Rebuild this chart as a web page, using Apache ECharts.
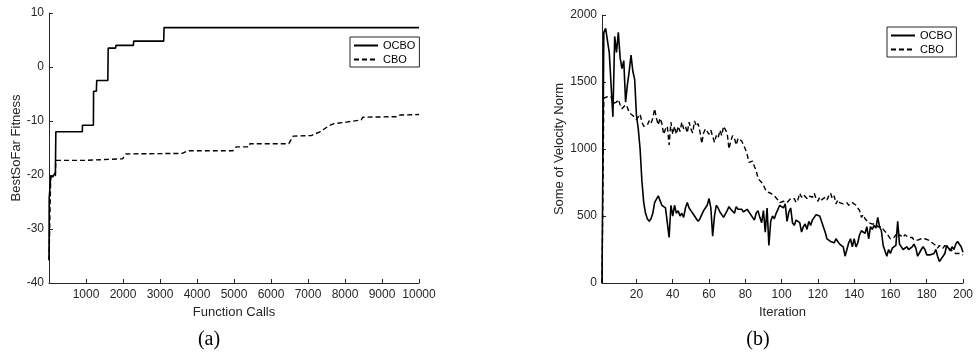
<!DOCTYPE html>
<html lang="en">
<head>
<meta charset="UTF-8">
<title>OCBO vs CBO</title>
<script src="https://cdn.jsdelivr.net/npm/echarts/dist/echarts.min.js"></script>
<style>
  html, body { margin: 0; padding: 0; background: #fff; }
  #chart { width: 976px; height: 352px; }
</style>
</head>
<body>
<div id="chart"></div>
<script>
// (a) best-so-far fitness vs function calls
var fcOcboCalls = [1, 5, 46, 108, 173, 181, 185, 900, 905, 1200, 1205, 1280, 1290, 1590, 1600, 1800, 1810, 2280, 2290, 3100, 3110, 10000];
var fcOcboFit   = [-35.8, -24.3, -20.3, -20.3, -19.5, -19.4, -12.0, -12.0, -10.8, -10.8, -4.5, -4.5, -2.5, -2.5, 3.5, 3.5, 4.0, 4.0, 4.8, 4.8, 7.3, 7.3];
var fcCboCalls  = [1, 46, 175, 181, 920, 930, 1990, 2080, 3600, 3760, 4970, 5060, 5400, 5430, 6480, 6600, 7090, 7320, 7590, 7700, 8040, 8440, 8480, 9390, 9480, 10000];
var fcCboFit    = [-35.8, -20.3, -20.1, -17.3, -17.3, -17.1, -17.0, -16.1, -16.0, -15.5, -15.5, -14.8, -14.8, -14.2, -14.2, -12.8, -12.7, -12.0, -10.8, -10.5, -10.2, -9.8, -9.3, -9.2, -8.9, -8.8];
var callTicks   = [1000, 2000, 3000, 4000, 5000, 6000, 7000, 8000, 9000, 10000];

// (b) sum of velocity norm per iteration (iterations 1..200)
var velOcbo = [
  0, 1870, 1900, 1905, 1720, 1710, 1240, 1840, 1720, 1870,
  1680, 1600, 1660, 1350, 1480, 1580, 1700, 1580, 1520, 1250,
  1150, 1000, 760, 600, 520, 480, 460, 480, 520, 600,
  590, 650, 640, 580, 590, 560, 570, 340, 580, 500,
  580, 520, 540, 500, 520, 490, 560, 600, 560, 540,
  520, 500, 480, 460, 480, 470, 540, 560, 580, 630,
  560, 350, 500, 580, 560, 530, 510, 490, 500, 540,
  570, 550, 560, 520, 570, 550, 540, 550, 530, 520,
  550, 530, 510, 490, 470, 520, 540, 490, 450, 540,
  380, 560, 280, 460, 500, 480, 520, 510, 580, 590,
  560, 590, 460, 530, 560, 450, 430, 470, 480, 450,
  380, 420, 440, 400, 460, 430, 470, 490, 510, 520,
  500, 460, 420, 380, 330, 320, 310, 310, 300, 330,
  310, 290, 300, 270, 200, 250, 300, 330, 270, 330,
  270, 300, 360, 390, 390, 370, 420, 330, 420, 400,
  430, 410, 490, 420, 390, 280, 270, 200, 250, 220,
  260, 250, 280, 460, 290, 300, 250, 240, 270, 250,
  250, 270, 290, 260, 200, 210, 250, 270, 250, 210,
  220, 210, 220, 220, 250, 200, 160, 180, 200, 220,
  280, 270, 240, 270, 250, 290, 310, 310, 270, 230
];
var velCbo = [
  0, 1380, 1380, 1390, 1380, 1390, 1340, 1340, 1350, 1370,
  1330, 1300, 1290, 1330, 1310, 1270, 1260, 1250, 1250, 1220,
  1220, 1260, 1200, 1170, 1170, 1180, 1210, 1190, 1230, 1300,
  1230, 1180, 1230, 1190, 1110, 1150, 1170, 1030, 1200, 1110,
  1170, 1110, 1170, 1130, 1200, 1150, 1170, 1120, 1200, 1150,
  1120, 1210, 1170, 1190, 1130, 1040, 1120, 1150, 1130, 1110,
  1140, 1130, 1050, 1100, 1080, 1140, 1100, 1170, 1160, 1120,
  1000, 1060, 1100, 1080, 1030, 1080, 1080, 1060, 1030, 1000,
  960, 900, 890, 910, 870, 840, 780, 790, 750, 730,
  700, 680, 670, 670, 660, 650, 640, 620, 600, 590,
  610, 600, 600, 590, 630, 640, 630, 600, 620, 670,
  640, 660, 650, 630, 650, 660, 640, 670, 630, 610,
  640, 620, 620, 640, 620, 650, 670, 630, 650, 590,
  620, 600, 610, 590, 590, 600, 580, 590, 600, 590,
  580, 560, 540, 490, 510, 480, 470, 450, 460, 440,
  430, 440, 420, 420, 420, 400, 390, 370, 360, 330,
  320, 340, 360, 340, 360, 350, 340, 360, 350, 340,
  330, 340, 320, 330, 320, 330, 330, 320, 330, 330,
  320, 310, 300, 300, 280, 260, 280, 270, 260, 280,
  270, 260, 250, 240, 230, 220, 210, 220, 220, 210
];
var iterTicks = [20, 40, 60, 80, 100, 120, 140, 160, 180, 200];

function pairs(xs, ys) {
    var out = [];
    for (var i = 0; i < xs.length; i++) out.push([xs[i], ys[i]]);
    return out;
}
function byIter(ys) {
    var out = [];
    for (var i = 0; i < ys.length; i++) out.push([i + 1, ys[i]]);
    return out;
}
function plain(v) { return String(v); }

var ink = '#262626';
var sans = 'Liberation Sans';

function axisBase() {
    return {
        axisLine: { show: true, onZero: false, lineStyle: { color: ink, width: 1 } },
        axisTick: { show: true, inside: true, length: 4, lineStyle: { color: ink } },
        axisLabel: { color: ink, fontSize: 12, fontFamily: sans, formatter: plain },
        splitLine: { show: false },
        nameLocation: 'middle',
        nameTextStyle: { color: ink, fontSize: 13, fontFamily: sans }
    };
}
function ax(extra) {
    var a = axisBase();
    for (var k in extra) {
        if (typeof extra[k] === 'object' && a[k] && !Array.isArray(extra[k])) {
            for (var j in extra[k]) a[k][j] = extra[k][j];
        } else {
            a[k] = extra[k];
        }
    }
    return a;
}

function legendAt(left, top) {
    return {
        orient: 'vertical', left: left, top: top,
        data: ['OCBO', 'CBO'],
        backgroundColor: '#fff',
        borderColor: ink, borderWidth: 1,
        padding: [3, 4, 2, 3],
        itemGap: 3, itemWidth: 24, itemHeight: 10,
        itemStyle: { opacity: 0 },
        textStyle: { color: '#000', fontSize: 11, fontFamily: sans },
        selectedMode: false
    };
}

var solid = { color: '#000', width: 1.6, type: 'solid' };
var dashed = { color: '#000', width: 1.4, type: [5, 3] };

var mychart = echarts.init(document.getElementById('chart'), null, { renderer: 'canvas' });
mychart.setOption({
    animation: false,
    backgroundColor: '#fff',
    grid: [
        { left: 49, top: 13, width: 370, height: 270 },
        { left: 602, top: 15, width: 366, height: 268 }
    ],
    legend: [legendAt(350, 37), legendAt(887, 27)],
    xAxis: [
        ax({ gridIndex: 0, type: 'value', min: 0, max: 10000, name: 'Function Calls', nameGap: 22,
             axisLabel: { customValues: callTicks, margin: 6 },
             axisTick: { customValues: callTicks } }),
        ax({ gridIndex: 1, type: 'value', min: 1, max: 200, name: 'Iteration', nameGap: 22,
             axisLabel: { customValues: iterTicks, margin: 6 },
             axisTick: { customValues: iterTicks } })
    ],
    yAxis: [
        ax({ gridIndex: 0, type: 'value', min: -40, max: 10, interval: 10, name: 'BestSoFar Fitness', nameGap: 25,
             axisLabel: { margin: 5 } }),
        ax({ gridIndex: 1, type: 'value', min: 0, max: 2000, interval: 500, name: 'Some of Velocity Norm', nameGap: 36,
             axisLabel: { margin: 5 } })
    ],
    series: [
        { name: 'OCBO', type: 'line', xAxisIndex: 0, yAxisIndex: 0, symbol: 'none', lineStyle: solid, itemStyle: { color: '#000' },
          data: pairs(fcOcboCalls, fcOcboFit) },
        { name: 'CBO', type: 'line', xAxisIndex: 0, yAxisIndex: 0, symbol: 'none', lineStyle: dashed, itemStyle: { color: '#000' },
          data: pairs(fcCboCalls, fcCboFit) },
        { name: 'OCBO', type: 'line', xAxisIndex: 1, yAxisIndex: 1, symbol: 'none', lineStyle: solid, itemStyle: { color: '#000' },
          data: byIter(velOcbo) },
        { name: 'CBO', type: 'line', xAxisIndex: 1, yAxisIndex: 1, symbol: 'none', lineStyle: dashed, itemStyle: { color: '#000' },
          data: byIter(velCbo) }
    ],
    graphic: [
        { type: 'text', x: 209, y: 340, style: { text: '(a)', font: '20px "Liberation Serif"', fill: '#000', align: 'center', verticalAlign: 'middle' } },
        { type: 'text', x: 758, y: 340, style: { text: '(b)', font: '20px "Liberation Serif"', fill: '#000', align: 'center', verticalAlign: 'middle' } }
    ]
});
</script>
</body>
</html>
